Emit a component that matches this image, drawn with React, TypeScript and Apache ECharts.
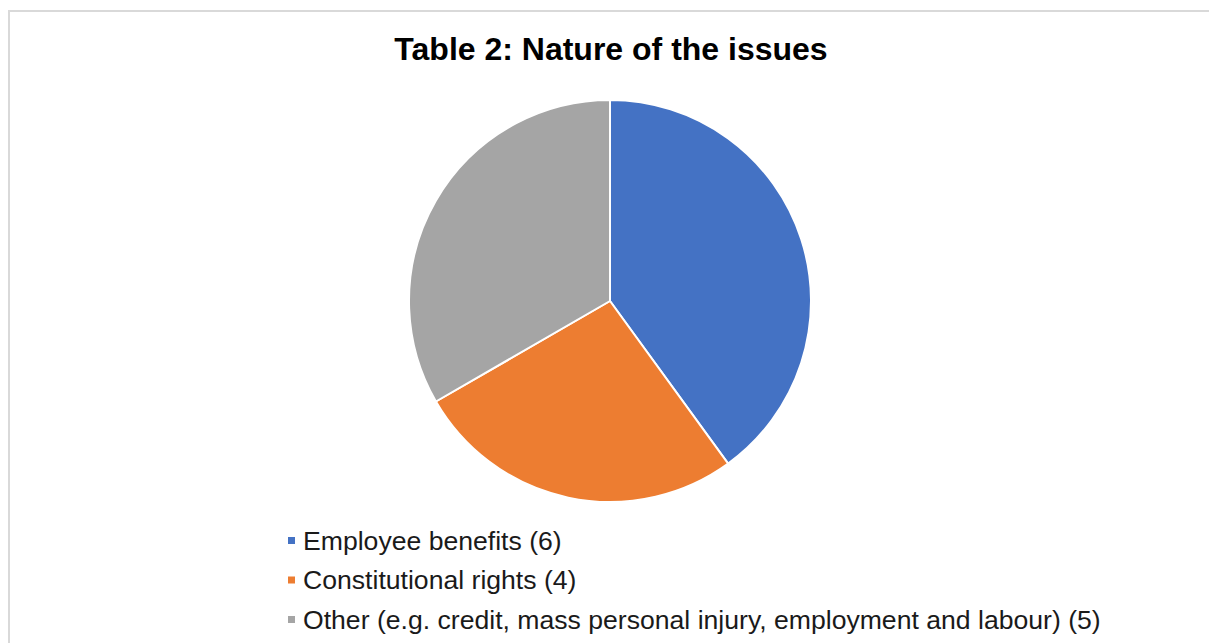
import React, { useEffect, useRef } from "react";
import * as echarts from "echarts";

const categories = [
  "Employee benefits (6)",
  "Constitutional rights (4)",
  "Other (e.g. credit, mass personal injury, employment and labour) (5)",
];
const values = [6, 4, 5];
const colors = ["#4472C4", "#ED7D31", "#A5A5A5"];
const titleText = "Table 2: Nature of the issues";

export default function App() {
  const ref = useRef<HTMLDivElement>(null);
  useEffect(() => {
    if (!ref.current) return;
    const chart = echarts.init(ref.current, null, { renderer: "svg" });
    chart.setOption({
      animation: false,
      backgroundColor: "#ffffff",
      title: {
        text: titleText,
        left: 606,
        textAlign: "center",
        top: 28,
        textStyle: {
          fontFamily: "Liberation Sans",
          fontWeight: "bold",
          fontSize: 32,
          color: "#000000",
        },
      },
      graphic: [
        {
          type: "rect",
          shape: { x: 9, y: 11, width: 1400, height: 800 },
          style: { fill: "none", stroke: "#d9d9d9", lineWidth: 2 },
          silent: true,
        },
      ],
      legend: {
        orient: "vertical",
        left: 281,
        top: 522,
        padding: 5,
        icon: "rect",
        itemWidth: 9,
        itemHeight: 9,
        itemGap: 12.5,
        textStyle: {
          fontFamily: "Liberation Sans",
          fontSize: 26.6,
          color: "#1a1a1a",
          padding: [0, 0, 0, 2],
        },
        data: categories,
      },
      series: [
        {
          type: "pie",
          center: [610, 301],
          radius: [0, 201],
          startAngle: 90,
          clockwise: true,
          label: { show: false },
          labelLine: { show: false },
          itemStyle: { borderColor: "#ffffff", borderWidth: 2 },
          data: categories.map((name, i) => ({
            name,
            value: values[i],
            itemStyle: { color: colors[i] },
          })),
        },
      ],
    });
    return () => chart.dispose();
  }, []);
  return (
    <div
      ref={ref}
      style={{ position: "fixed", left: 0, top: 0, width: 1209, height: 643 }}
    />
  );
}
